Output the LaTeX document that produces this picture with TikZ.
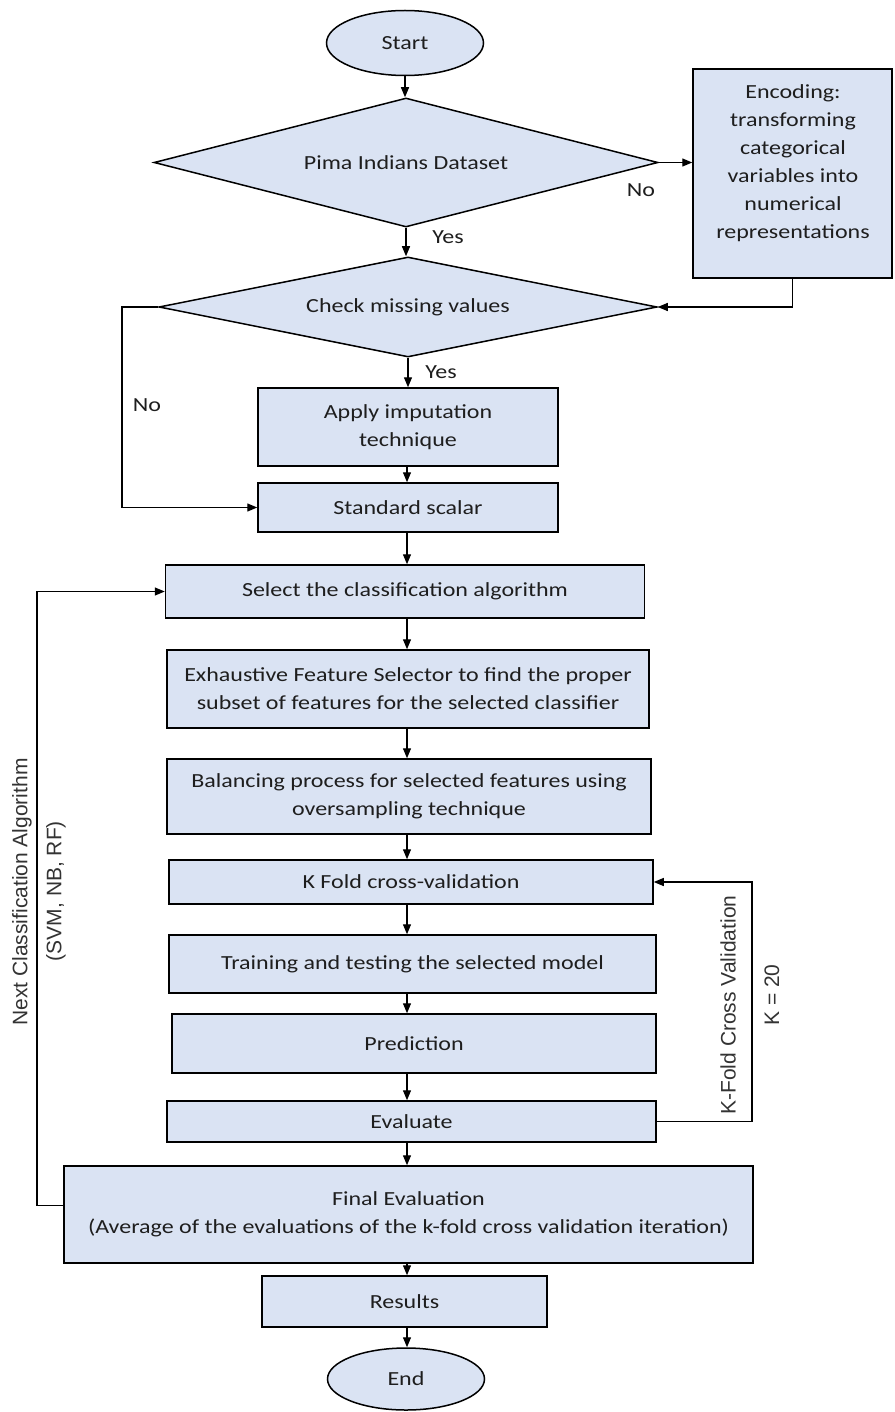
\documentclass[tikz,border=0pt]{standalone}
\usepackage{fontspec}
\setmainfont{Carlito}[FakeStretch=1.2]
\newfontfamily\arialfont{Liberation Sans}
\usetikzlibrary{shapes.geometric,arrows.meta}
\definecolor{boxfill}{HTML}{DAE3F3}
\definecolor{txt}{HTML}{1E1E1E}
\definecolor{sidetxt}{HTML}{333333}
\begin{document}
\begin{tikzpicture}[x=1pt,y=-1pt,
  font=\fontsize{20}{28}\selectfont,
  every node/.style={text=txt},
  box/.style={draw=black,line width=1.5pt,fill=boxfill,rectangle,inner sep=0pt,align=center},
  dia/.style={draw=black,line width=1.5pt,fill=boxfill,diamond,inner sep=0pt,align=center},
  term/.style={draw=black,line width=1.5pt,fill=boxfill,ellipse,inner sep=0pt,align=center,minimum width=157pt,minimum height=65pt},
  arr/.style={draw=black,line width=1.3pt,-{Triangle[length=10pt,width=8pt]}},
  side/.style={font=\arialfont\fontsize{21}{26}\selectfont,text=sidetxt,rotate=90,inner sep=0pt},
  lab/.style={inner sep=0pt}
]
\useasboundingbox (0,0) rectangle (894,1412);
\fill[white] (0,0) rectangle (894,1412);

\node[term] (start) at (405,43) {Start};
\node[dia,aspect=3.9,minimum width=504pt,minimum height=129pt] (d1) at (406,162.5) {Pima Indians Dataset};
\node[box,minimum width=199pt,minimum height=209pt] (enc) at (792.5,173.5) {};
\node[lab,align=center] (enctxt) at (793,163) {Encoding:\\transforming\\categorical\\variables into\\numerical\\representations};
\node[dia,aspect=4.98,minimum width=498pt,minimum height=100pt] (d2) at (408,307) {Check missing values};
\node[box,minimum width=300pt,minimum height=78pt] (imp) at (408,427) {Apply imputation\\technique};
\node[box,minimum width=300pt,minimum height=49pt] (std) at (408,507.5) {Standard scalar};
\node[box,minimum width=479pt,minimum height=53pt] (sel) at (405,591.5) {Select the classification algorithm};
\node[box,minimum width=482pt,minimum height=78pt] (exh) at (408,689) {Exhaustive Feature Selector to find the proper\\subset of features for the selected classifier};
\node[box,minimum width=484pt,minimum height=75pt] (bal) at (409,796.5) {Balancing process for selected features using\\oversampling technique};
\node[box,minimum width=484pt,minimum height=44pt] (kf) at (411,882) {K Fold cross-validation};
\node[box,minimum width=487pt,minimum height=58pt] (tr) at (412.5,964) {Training and testing the selected model};
\node[box,minimum width=484pt,minimum height=59pt] (pred) at (414,1043.5) {Prediction};
\node[box,minimum width=489pt,minimum height=41pt] (ev) at (411.5,1121.5) {Evaluate};
\node[box,minimum width=689pt,minimum height=97pt] (fin) at (408.5,1214.5) {Final Evaluation\\(Average of the evaluations of the k-fold cross validation iteration)};
\node[box,minimum width=285pt,minimum height=51pt] (res) at (404.5,1301.5) {Results};
\node[term,minimum height=62pt] (end) at (406,1379) {End};

% labels
\node[lab] (yes1) at (448,237) {Yes};
\node[lab] (no1) at (641,190) {No};
\node[lab] (yes2) at (441,372) {Yes};
\node[lab] (no2) at (147,405) {No};
\node[side] (nextlab) at (22,892) {Next Classification Algorithm};
\node[side] (svmlab) at (56,891) {(SVM, NB, RF)};
\node[side] (kflab) at (728,1005) {K-Fold Cross Validation};
\node[side] (klab) at (772,995) {K = 20};

% coordinates
\coordinate (noL) at (122,307);
\coordinate (nl) at (37,0);
\coordinate (kr) at (752,0);
\coordinate (sp) at (407,0);

% connectors
\draw[arr] (start.south) -- (start.south |- d1.north);
\draw[arr] (d1.east) -- (d1.east -| enc.west);
\draw[arr] (d1.south) -- (d1.south |- d2.north);
\draw[arr] (enc.south) |- (d2.east);
\draw[arr] (d2.south) -- (d2.south |- imp.north);
\draw[arr] (d2.west) -- (noL) |- (std.west);
\draw[arr] (sp |- imp.south) -- (sp |- std.north);
\draw[arr] (sp |- std.south) -- (sp |- sel.north);
\draw[arr] (sp |- sel.south) -- (sp |- exh.north);
\draw[arr] (sp |- exh.south) -- (sp |- bal.north);
\draw[arr] (sp |- bal.south) -- (sp |- kf.north);
\draw[arr] (sp |- kf.south) -- (sp |- tr.north);
\draw[arr] (sp |- tr.south) -- (sp |- pred.north);
\draw[arr] (sp |- pred.south) -- (sp |- ev.north);
\draw[arr] (sp |- ev.south) -- (sp |- fin.north);
\draw[arr] (sp |- fin.south) -- (sp |- res.north);
\draw[arr] (sp |- res.south) -- (sp |- end.north);
\draw[arr] (ev.east) -- (ev.east -| kr) |- (kf.east);
\draw[arr] ([yshift=9pt]fin.west) -- ([yshift=9pt]fin.west -| nl) |- (sel.west);
\end{tikzpicture}
\end{document}
